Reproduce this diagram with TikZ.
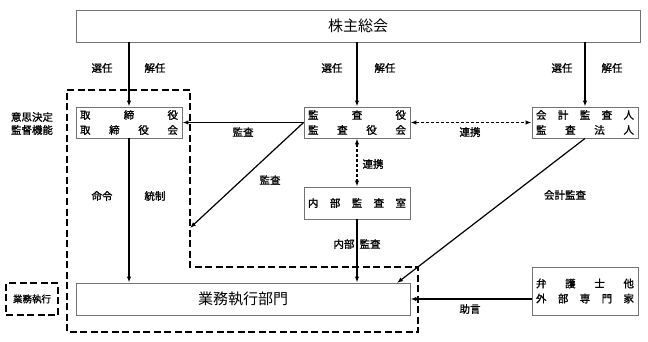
\documentclass[tikz,border=0pt]{standalone}
\usepackage{fontspec}
\setmainfont{Noto Sans CJK JP}
\newfontfamily\lblfont[FakeBold=1.2]{Noto Sans CJK JP}
\usetikzlibrary{arrows.meta}

\tikzset{
  box/.style={draw=black!55, line width=0.9pt, fill=white, inner sep=0pt},
  orgbox/.style={box, minimum width=106pt, minimum height=31pt, font=\lblfont\fontsize{10.5}{15}\selectfont, align=left, text width=98pt},
  lbl/.style={font=\lblfont\fontsize{10.5}{13}\selectfont},
  arr/.style={-{Latex[length=6pt,width=4.5pt]}, line width=1.2pt},
  darr/.style={{Latex[length=6pt,width=4.5pt]}-{Latex[length=6pt,width=4.5pt]}, line width=1.2pt, dash pattern=on 3pt off 2pt},
  area/.style={line width=1.4pt, dash pattern=on 7pt off 3.5pt}
}

\begin{document}
\begin{tikzpicture}[x=1pt, y=-1pt]
  \useasboundingbox (0,0) rectangle (648,342);

  \draw[area] (67,90) -- (190,90) -- (190,267) -- (418,267) -- (418,332) -- (67,332) -- cycle;

  \node[box, minimum width=564pt, minimum height=32pt, font=\fontsize{15}{18}\selectfont] (share) at (358,26) {株主総会};
  \node[orgbox] (board) at (129,122.5) {取\hfill 締\hfill 役\\取\hfill 締\hfill 役\hfill 会};
  \node[orgbox] (kansa) at (357,122.5) {監\hfill 査\hfill 役\\監\hfill 査\hfill 役\hfill 会};
  \node[orgbox] (kaikei) at (585,122.5) {会\hfill 計\hfill 監\hfill 査\hfill 人\\監\hfill 査\hfill 法\hfill 人};
  \node[orgbox, minimum height=32pt] (naibu) at (357,203) {内\hfill 部\hfill 監\hfill 査\hfill 室};
  \node[box, minimum width=334pt, minimum height=32pt, font=\fontsize{15}{18}\selectfont] (gyomu) at (243,299) {業務執行部門};
  \node[orgbox, minimum height=48pt] (bengo) at (585,291) {弁\hfill 護\hfill 士\hfill 他\\外\hfill 部\hfill 専\hfill 門\hfill 家};
  \node[box, draw=black, area, minimum width=52pt, minimum height=32pt, font=\lblfont\fontsize{9.5}{12}\selectfont] (shikko) at (32,299) {業務執行};

  \node[lbl, align=left] (kino) at (32,123.5) {意思決定\\監督機能};

  \coordinate (hit) at (190,228);
  \coordinate (kaihit) at (397,283);

  \draw[arr] (share.south -| board) -- (board.north);
  \draw[arr] (share.south -| kansa) -- (kansa.north);
  \draw[arr] (share.south -| kaikei) -- (kaikei.north);
  \draw[arr] (kansa.west) -- (board.east);
  \draw[arr] (kansa.west) -- (hit);
  \draw[darr] (kansa.east) -- (kaikei.west);
  \draw[darr] (kansa.south) -- (naibu.north);
  \draw[arr] (board.south) -- (board.south |- gyomu.north);
  \draw[arr] (naibu.south) -- (naibu.south |- gyomu.north);
  \draw[arr] (kaikei.south) -- (kaihit);
  \draw[arr] (bengo.west |- gyomu.east) -- (gyomu.east);

  \node[lbl] (sen1) at (102,68) {選任};
  \node[lbl] (kai1) at (155,68) {解任};
  \node[lbl] (sen2) at (332,68) {選任};
  \node[lbl] (kai2) at (385,68) {解任};
  \node[lbl] (sen3) at (562,68) {選任};
  \node[lbl] (kai3) at (612,68) {解任};
  \node[lbl] (kansa1) at (243,132) {監査};
  \node[lbl] (kansa2) at (270,180) {監査};
  \node[lbl] (renkei1) at (470,132) {連携};
  \node[lbl, anchor=west] (renkei2) at (359,164) {連携};
  \node[lbl] (meirei) at (102,196) {命令};
  \node[lbl] (tosei) at (155,196) {統制};
  \node[lbl] (naikan) at (357,244) {内部\hspace{5pt}監査};
  \node[lbl] (kaikan) at (565,195) {会計監査};
  \node[lbl] (jogen) at (470,309) {助言};
\end{tikzpicture}
\end{document}
